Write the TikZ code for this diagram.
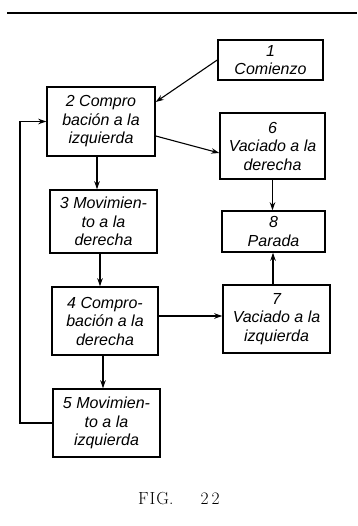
\documentclass[tikz,border=0pt]{standalone}
\usepackage{fontspec}
\newfontfamily\lettering{Liberation Sans}
\usetikzlibrary{arrows.meta}
\begin{document}
\begin{tikzpicture}[x=1pt,y=-1pt,
  box/.style={draw, line width=1.5pt, inner sep=0pt, align=center,
    font=\lettering\itshape\fontsize{16}{18.5}\selectfont},
  arr/.style={line width=1.1pt, -{Stealth[length=8pt,width=5.5pt]}},
  rule/.style={line width=2.6pt},
  caption/.style={font=\fontsize{17.5}{19}\selectfont, inner sep=0pt}]
\useasboundingbox[fill=white] (0,0) rectangle (357,526);
\draw[rule] (7,13) -- (357,13);
% boxes
\node[box, minimum width=105pt, minimum height=40pt] (b1) at (270.5,60) {1\\Comienzo};
\node[box, minimum width=108pt, minimum height=69pt] (b2) at (101,121.5) {2 Compro\\bación a la\\izquierda};
\node[box, minimum width=105pt, minimum height=66pt] (b6) at (272.5,146) {6\\Vaciado a la\\derecha};
\node[box, minimum width=107pt, minimum height=63pt] (b3) at (103.5,221.5) {3 Movimien-\\to a la\\derecha};
\node[box, minimum width=103pt, minimum height=41pt] (b8) at (273.5,231.5) {8\\Parada};
\node[box, minimum width=106pt, minimum height=68pt] (b4) at (105,321) {4 Compro-\\bación a la\\derecha};
\node[box, minimum width=107pt, minimum height=68pt] (b7) at (276.5,319) {7\\Vaciado a la\\izquierda};
\node[box, minimum width=107pt, minimum height=68pt] (b5) at (106.5,423) {5 Movimien-\\to a la\\izquierda};
% connectors
\draw[arr] (b1.west) -- ([yshift=19.5pt]b2.east);
\draw[arr] ([yshift=-14.5pt]b2.east) -- ([yshift=-7pt]b6.west);
\draw[arr] ([xshift=-4pt]b2.south) -- ([xshift=-4pt]b2.south |- b3.north);
\draw[arr] ([xshift=-3.5pt]b3.south) -- ([xshift=-3.5pt]b3.south |- b4.north);
\draw[arr] ([xshift=-2pt]b4.south) -- ([xshift=-2pt]b4.south |- b5.north);
\draw[arr] ([yshift=5pt]b4.east) -- ([yshift=5pt]b4.east -| b7.west);
\draw[arr] (b6.south) -- (b6.south |- b8.north);
\draw[arr] ([xshift=-3.5pt]b7.north) -- ([xshift=-3.5pt]b7.north |- b8.south);
\coordinate (lp) at (20,423);
\draw[arr] (b5.west) -- (lp) |- (b2.west);
% caption
\node[caption, anchor=base west] (cap) at (138,504) {F\kern1pt I\kern1pt G.\kern27pt 2\kern3pt 2};
\end{tikzpicture}
\end{document}
